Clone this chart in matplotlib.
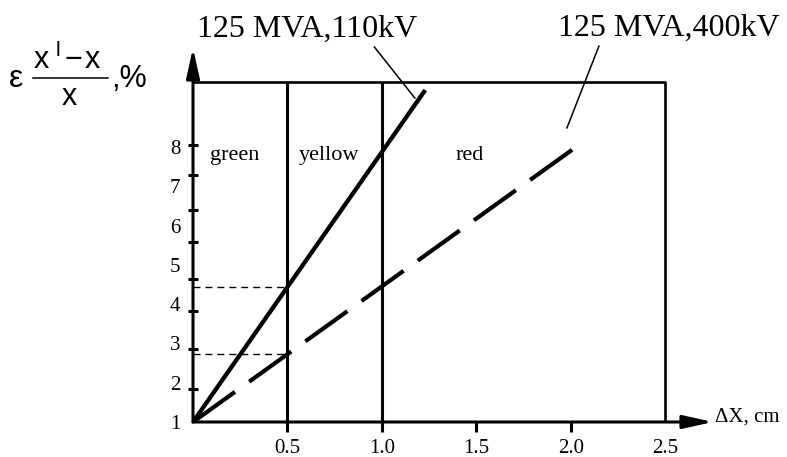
import numpy as np
import matplotlib
matplotlib.use("Agg")
import matplotlib.pyplot as plt
from matplotlib.lines import Line2D

plt.rcParams['font.family'] = ['Liberation Serif', 'DejaVu Serif']

# Dados
line_110_x = [0.0, 1.23]
line_110_y = [1.0, 9.45]
line_400_x = [0.0, 2.02]
line_400_y = [1.0, 7.97]
zone_bounds = [0.5, 1.0]
zone_names = ["green", "yellow", "red"]
zone_label_x = [0.09, 0.56, 1.39]
zone_label_y = 7.67
xticks = [0.5, 1.0, 1.5, 2.0, 2.5]
xtick_labels = ["0.5", "1.0", "1.5", "2.0", "2.5"]
yticks = [1, 2, 3, 4, 5, 6, 7, 8]
ytick_labels = ["1", "2", "3", "4", "5", "6", "7", "8"]
ytick_marks = [1.84, 2.86, 3.82, 4.64, 5.58, 6.39, 7.28, 8.05]
box_right = 2.5
box_top = 9.65
xmax = 2.754
ymax = 10.52

W, H = 787, 457
fig = plt.figure(figsize=(W / 100, H / 100), dpi=100)
ax = fig.add_axes([193 / W, 1 - 422 / H, 520 / W, 374 / H])
ax.set_xlim(0, xmax)
ax.set_ylim(1, ymax)
for s in ax.spines.values():
    s.set_visible(False)

# eixos com setas
arrow = dict(arrowstyle="-|>,head_length=0.9,head_width=0.2", lw=2.2, color="k",
             shrinkA=0, shrinkB=0, mutation_scale=20)
ax.annotate("", xy=(0, ymax), xytext=(0, 1), arrowprops=arrow, annotation_clip=False)
ax.annotate("", xy=(xmax, 1), xytext=(0, 1), arrowprops=arrow, annotation_clip=False)

# caixa e zonas
ax.plot([0, box_right, box_right], [box_top, box_top, 1], color="k", lw=1.9)
ax.vlines(zone_bounds, 1, box_top, color="k", lw=2.2)
for name, zx in zip(zone_names, zone_label_x):
    ax.text(zx, zone_label_y, name, fontsize=16, va="baseline", ha="left")

# curvas
ax.plot(line_110_x, line_110_y, color="k", lw=3.1, solid_capstyle="butt")
ax.plot(line_400_x, line_400_y, color="k", lw=3.0, linestyle=(0, (12.4, 4.2)),
        dash_capstyle="butt")

# linhas tracejadas de referência em x = 0.5
y_110 = np.interp(zone_bounds[0], line_110_x, line_110_y)
y_400 = np.interp(zone_bounds[0], line_400_x, line_400_y)
ax.hlines([y_110, y_400], 0, zone_bounds[0], color="k", lw=1.0,
          linestyles=[(0, (5, 3.6))])

# ticks
ax.set_xticks(xticks)
ax.set_xticklabels(xtick_labels, fontsize=15)
ax.tick_params(axis="x", direction="out", length=7, width=2.2, pad=5)
ax.xaxis.get_major_ticks()[-1].tick1line.set_visible(False)
ax.set_yticks(yticks)
ax.set_yticklabels(ytick_labels, fontsize=15)
ax.tick_params(axis="y", which="major", length=0, pad=9)
ax.set_yticks(ytick_marks, minor=True)
ax.tick_params(axis="y", which="minor", direction="inout", length=7, width=2.2)

# rótulos
ax.text(2.762, 1.0, "ΔX, cm", fontsize=15, ha="left", va="baseline")

# rótulo do eixo y: ε (x' - x)/x, %
sans = dict(family="Liberation Sans", va="baseline", ha="left")
fig.text(9 / W, 1 - 87 / H, "ε", fontsize=23, **sans)
fig.text(34 / W, 1 - 68 / H, "x", fontsize=22, **sans)
fig.text(56 / W, 1 - 56 / H, "l", fontsize=15, **sans)
fig.text(65 / W, 1 - 68 / H, "−", fontsize=22, **sans)
fig.text(85 / W, 1 - 68 / H, "x", fontsize=22, **sans)
fig.add_artist(Line2D([33 / W, 108 / W], [1 - 78 / H, 1 - 78 / H], color="k", lw=1.1))
fig.text(62 / W, 1 - 105 / H, "x", fontsize=22, **sans)
fig.text(111 / W, 1 - 87 / H, ",%", fontsize=22, **sans)

ax.annotate("125 MVA,110kV", xy=(1.176, 9.24), xycoords="data",
            xytext=(0.25, 0.919), textcoords="figure fraction",
            fontsize=23, ha="left", va="baseline", annotation_clip=False,
            arrowprops=dict(arrowstyle="-", lw=1.1, color="k", shrinkA=0,
                            shrinkB=0, relpos=(0.78, 0.15)))
ax.annotate("125 MVA,400kV", xy=(1.98, 8.48), xycoords="data",
            xytext=(0.709, 0.921), textcoords="figure fraction",
            fontsize=23, ha="left", va="baseline", annotation_clip=False,
            arrowprops=dict(arrowstyle="-", lw=1.1, color="k", shrinkA=0,
                            shrinkB=0, relpos=(0.19, 0.0)))

plt.savefig("out.png", dpi=100)
